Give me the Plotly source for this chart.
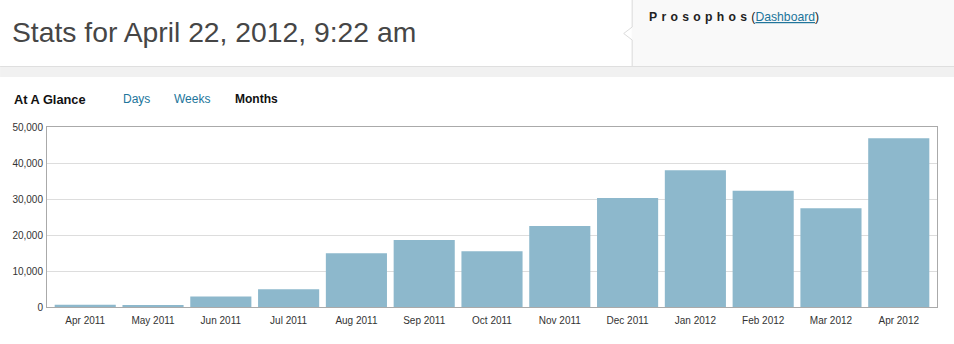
import plotly.graph_objects as go

months = ["Apr 2011", "May 2011", "Jun 2011", "Jul 2011", "Aug 2011", "Sep 2011",
          "Oct 2011", "Nov 2011", "Dec 2011", "Jan 2012", "Feb 2012", "Mar 2012", "Apr 2012"]
views = [600, 300, 2900, 4900, 14900, 18600, 15500, 22500, 30300, 38000, 32300, 27400, 46900]
y_ticks = [0, 10000, 20000, 30000, 40000, 50000]

W, H = 954, 344
L, R, T, B = 45, 937, 127, 307
pw, ph = R - L, B - T


def px(x):
    return (x - L) / pw


def py(y):
    return (B - y) / ph


FONT = "Liberation Sans, Arial, Helvetica, sans-serif"
BLUE = "#21759b"

fig = go.Figure()
fig.add_trace(go.Bar(
    x=list(range(len(months))), y=views,
    marker=dict(color="#8db8cc", line=dict(width=0)),
    hovertext=months, hoverinfo="text+y",
))

shapes = [
    dict(type="rect", xref="paper", yref="paper", x0=px(-2), x1=px(W + 2), y0=py(77), y1=py(66),
         fillcolor="#f1f1f1", line=dict(width=0), layer="below"),
    dict(type="line", xref="paper", yref="paper", x0=px(-2), x1=px(W + 2), y0=py(66.5), y1=py(66.5),
         line=dict(color="#dfdfdf", width=1)),
    dict(type="rect", xref="paper", yref="paper", x0=px(631), x1=px(W + 2), y0=py(66), y1=py(-2),
         fillcolor="#f9f9f9", line=dict(width=0), layer="below"),
    dict(type="path", xref="paper", yref="paper",
         path=f"M {px(631.5)},{py(-2)} L {px(631.5)},{py(27)} L {px(623)},{py(33.5)} L {px(631.5)},{py(40)} L {px(631.5)},{py(66)}",
         line=dict(color="#dcdcdc", width=1), fillcolor="rgba(0,0,0,0)"),
]

annotations = [
    dict(text="Stats for April 22, 2012, 9:22 am", x=px(8), y=py(32), xref="paper", yref="paper",
         xanchor="left", yanchor="middle", showarrow=False,
         font=dict(family=FONT, size=28.3, color="#464646")),
    dict(text='<b><span style="letter-spacing:4.3px">Prosophos</span></b>'
              f'(<span style="color:{BLUE};text-decoration:underline">Dashboard</span>)',
         x=px(646), y=py(16.5), xref="paper", yref="paper",
         xanchor="left", yanchor="middle", showarrow=False,
         font=dict(family=FONT, size=12.2, color="#222")),
    dict(text="<b>At A Glance</b>", x=px(9.5), y=py(99), xref="paper", yref="paper",
         xanchor="left", yanchor="middle", showarrow=False,
         font=dict(family=FONT, size=12.8, color="#111")),
    dict(text="Days", x=px(119.5), y=py(99), xref="paper", yref="paper",
         xanchor="left", yanchor="middle", showarrow=False,
         font=dict(family=FONT, size=12, color=BLUE)),
    dict(text="Weeks", x=px(170.5), y=py(99), xref="paper", yref="paper",
         xanchor="left", yanchor="middle", showarrow=False,
         font=dict(family=FONT, size=12, color=BLUE)),
    dict(text="<b>Months</b>", x=px(231), y=py(99), xref="paper", yref="paper",
         xanchor="left", yanchor="middle", showarrow=False,
         font=dict(family=FONT, size=12, color="#111")),
]

pad = 0.064
fig.update_layout(
    width=W, height=H,
    margin=dict(l=L, r=W - R, t=T, b=H - B, pad=0),
    paper_bgcolor="white", plot_bgcolor="white",
    showlegend=False,
    bargap=0.0985,
    shapes=shapes,
    annotations=annotations,
    font=dict(family=FONT, size=10, color="#333"),
    xaxis=dict(range=[-0.5 - pad, len(months) - 0.5 + pad],
               tickvals=list(range(len(months))), ticktext=months,
               showgrid=False, showline=True, linecolor="#aaaaaa", linewidth=1, mirror=True,
               ticks="", ticklabelstandoff=4, tickfont=dict(size=10, color="#333"), fixedrange=True),
    yaxis=dict(range=[0, 50000], tickvals=y_ticks, tickformat=",d", showgrid=True,
               gridcolor="#dddddd", gridwidth=1, showline=True, linecolor="#aaaaaa", linewidth=1,
               mirror=True, ticks="", zeroline=False, ticklabelstandoff=1,
               tickfont=dict(size=10, color="#333"), fixedrange=True),
)

fig.write_html("out.html", config={"displayModeBar": False})
